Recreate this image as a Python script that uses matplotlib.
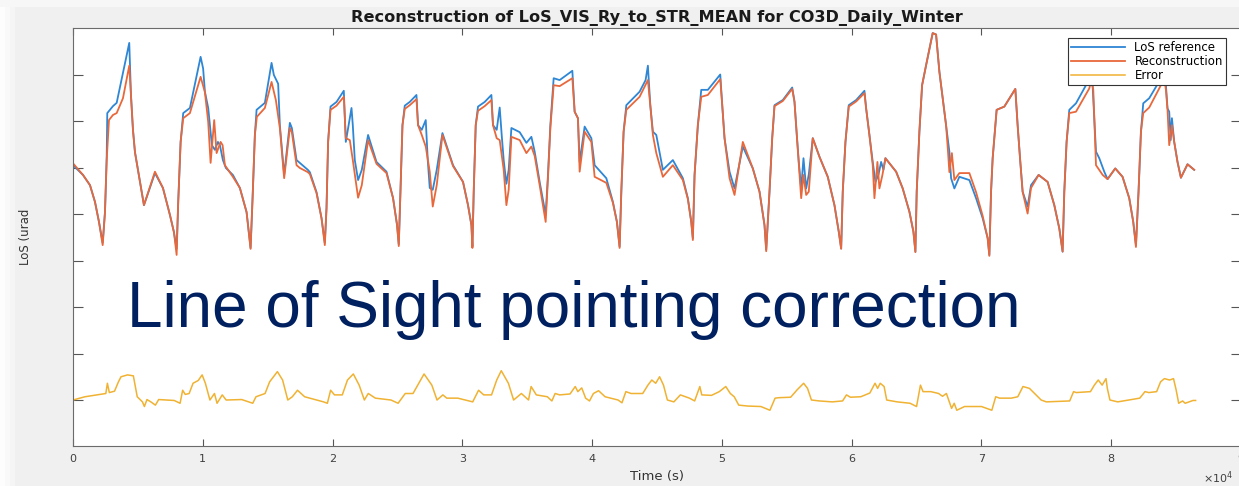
import matplotlib
matplotlib.use('Agg')
import matplotlib.pyplot as plt
from matplotlib.patches import Rectangle

# ---------------- data (time in s, LoS in urad) ----------------
ref_time = [0, 770, 1309, 1694, 2002, 2287, 2464, 2595, 2641, 3080, 3365, 4335, 4466, 4620, 4774, 5159, 5467, 6314, 6930, 7469, 7777, 7985,
            8108, 8293, 8493, 9009, 9833, 10026, 10164, 10418, 10549, 10703, 10934, 11165, 11319, 11550, 11781, 12320, 12859, 13375, 13683,
            13837, 14014, 14145, 14784, 15300, 15477, 15808, 15939, 16270, 16709, 16863, 17225, 18095, 18249, 18765, 19150, 19404,
            19535, 19658, 19843, 20305, 20867, 21021, 21460, 21560, 21714, 21968, 22253, 22738, 23385, 24155, 24663, 24971, 25102,
            25233, 25387, 25564, 25949, 26465, 26588, 26873, 27181, 27335, 27489, 27720, 28028, 28467, 29283, 30053, 30438, 30700, 30777,
            30877, 31031, 31208, 31724, 32240, 32363, 32648, 32879, 33033, 33187, 33395, 33572, 33780, 34419, 34935, 35320, 35574, 35959, 36421,
            36598, 36783, 37037, 37499, 38477, 38654, 38908, 39039, 39424, 39940, 40194, 41095, 41603, 41911, 42119,
            42250, 42427, 42635, 43659, 44121, 44298, 44483, 44683, 44945, 45453, 46223, 46993, 47378, 47640, 47763,
            47894, 48148, 48410, 48918, 49873, 50027, 50204, 50589, 50974, 51613, 52383, 52899, 53284, 53415,
            53669, 53877, 54054, 54693, 55417, 55594, 55771, 55925, 56110, 56287, 56495, 56695, 57003, 57519, 58158, 58674, 59005, 59190,
            59313, 59521, 59775, 60345, 60984, 61115, 61369, 61623, 61831, 62062, 62270, 62447, 62601, 63425, 63933, 64449, 64757, 64911,
            65011, 65219, 65427, 65735, 66243, 66505, 66759, 67013, 67275, 67529, 67660, 67914, 68299, 69069, 69585, 70093, 70478, 70609,
            70740, 70864, 70994, 71171, 71764, 72611, 72788, 72973, 73173, 73558, 73820, 74405, 75098, 75614, 75999, 76254,
            76384, 76561, 76769, 77285, 78055, 78386, 78564, 78826, 79079, 79464, 79718, 80311, 80873, 81389, 81697, 81905,
            82105, 82290, 82467, 82929, 83568, 84007, 84215, 84338, 84469, 84585, 84677, 84854, 85108, 85370, 85878, 86394]
ref_value = [50.5, 48.4, 46.2, 42.6, 38.3, 33.8, 40.4, 52.0, 61.7, 63.2, 63.9, 76.8, 65.6, 58.1, 53.3, 46.9, 41.9, 48.8, 45.6, 39.8, 36.1, 32.5,
             42.6, 55.5, 61.7, 62.8, 73.8, 71.3, 66.3, 62.8, 59.1, 54.8, 53.8, 55.5, 54.8, 51.6, 49.9, 48.4, 45.6, 40.4, 32.7,
             43.4, 57.0, 62.4, 63.9, 72.5, 69.9, 68.0, 59.1, 48.4, 59.6, 58.5, 51.6, 49.5, 49.0, 44.7, 39.1, 33.8,
             41.3, 55.5, 63.1, 64.1, 66.5, 55.5, 62.8, 59.1, 51.6, 47.3, 49.5, 57.0, 51.2, 49.1, 43.4, 37.6, 33.5,
             44.8, 59.1, 63.3, 64.1, 65.6, 59.1, 58.1, 60.2, 51.6, 45.6, 45.2, 49.5, 57.4, 50.5, 46.9, 41.9, 37.6, 33.0,
             44.8, 59.1, 63.1, 64.1, 65.6, 59.1, 58.1, 62.9, 57.0, 51.6, 46.5, 49.5, 58.5, 57.6, 55.3, 56.6, 53.4, 46.9, 39.8,
             48.4, 59.1, 69.2, 68.8, 70.8, 62.0, 60.6, 51.2, 58.8, 56.3, 50.5, 47.7, 42.6, 38.3, 33.0,
             44.8, 57.7, 63.4, 66.3, 68.8, 71.9, 63.4, 57.7, 57.0, 49.5, 51.6, 47.7, 43.4, 38.3, 34.8,
             48.4, 59.1, 66.7, 66.7, 70.0, 63.4, 56.3, 49.1, 45.5, 54.5, 49.8, 44.8, 37.6, 32.3,
             44.8, 56.3, 63.4, 64.5, 67.2, 64.2, 57.0, 51.2, 45.5, 52.0, 45.5, 48.5, 56.3, 52.3, 48.0, 41.9, 36.2, 32.6,
             44.8, 55.5, 63.4, 64.5, 66.5, 62.7, 57.0, 51.2, 46.9, 48.4, 51.2, 49.5, 52.0, 49.1, 45.5, 40.5, 36.2, 31.9,
             44.8, 57.7, 67.7, 72.0, 78.9, 78.6, 70.6, 64.9, 59.1, 53.4, 47.7, 45.5, 48.0, 47.3, 43.4, 39.1, 34.8, 31.2,
             44.8, 52.0, 56.3, 62.4, 63.1, 66.9, 59.1, 52.0, 44.8, 41.6, 46.2, 48.4, 46.9, 41.9, 36.9, 31.9,
             44.8, 55.5, 62.4, 63.8, 67.7, 70.5, 67.7, 53.4, 52.0, 49.1, 47.5, 49.8, 48.0, 43.4, 38.3, 33.3,
             44.8, 57.7, 63.8, 64.9, 67.9, 70.5, 67.7, 62.7, 62.0, 55.9, 60.6, 55.5, 51.2, 47.8, 50.7, 49.5]

rec_time = [0, 770, 1309, 1694, 2002, 2287, 2464, 2595, 2772, 3080, 3365, 3850, 4335, 4466, 4620, 4774, 5159, 5467, 6314, 6930, 7469, 7777, 7985,
            8108, 8293, 8493, 9009, 9833, 10164, 10418, 10603, 10880, 11065, 11373, 11527, 11704, 12320, 12859, 13375, 13683,
            13837, 14014, 14168, 14784, 15300, 15631, 15939, 16270, 16709, 16863, 17225, 17479, 18095, 18249, 18765, 19150, 19404,
            19535, 19658, 19843, 20305, 20867, 21021, 21329, 21560, 21968, 22253, 22738, 23385, 24155, 24663, 24971, 25102,
            25233, 25387, 25564, 25949, 26465, 26588, 26873, 27181, 27489, 27720, 28028, 28467, 29283, 30053, 30438, 30700, 30777,
            30877, 31031, 31208, 31724, 32240, 32363, 32648, 32879, 33187, 33395, 33572, 33780, 34419, 34935, 35320, 35574, 35959, 36421,
            36598, 36783, 37037, 37499, 38477, 38654, 38908, 39039, 39424, 39940, 40194, 41095, 41603, 41911, 42119,
            42250, 42427, 42635, 43659, 44298, 44483, 44683, 44945, 45453, 46223, 46993, 47378, 47640, 47763,
            47894, 48148, 48410, 48918, 49873, 50027, 50204, 50589, 50974, 51613, 52383, 52899, 53284, 53415,
            53669, 53877, 54054, 54693, 55417, 55594, 55771, 55925, 56110, 56287, 56495, 56695, 57003, 57519, 58158, 58674, 59005, 59190,
            59313, 59521, 59775, 60345, 60984, 61115, 61369, 61623, 61754, 61985, 62139, 62370, 62601, 63425, 63933, 64449, 64757, 64911,
            65011, 65219, 65427, 65735, 66243, 66505, 66759, 67013, 67275, 67414, 67529, 67722, 67914, 68299, 69069, 69585, 70093, 70478, 70609,
            70740, 70864, 70994, 71171, 71764, 72611, 72788, 72973, 73173, 73558, 73820, 74405, 75098, 75614, 75999, 76254,
            76384, 76561, 76769, 77285, 78309, 78463, 78617, 78826, 79341, 79718, 80311, 80873, 81389, 81697, 81905,
            82105, 82290, 82467, 82929, 83699, 84084, 84215, 84338, 84469, 84677, 84854, 85108, 85370, 85878, 86394]
rec_value = [50.9, 48.4, 46.2, 42.6, 38.3, 33.3, 40.4, 51.6, 60.2, 61.3, 61.7, 64.9, 71.9, 65.6, 58.1, 53.3, 46.9, 41.9, 49.1, 45.6, 39.8, 36.1, 31.2,
             42.6, 55.5, 60.6, 61.7, 69.5, 66.2, 59.8, 51.0, 60.2, 53.1, 55.5, 54.8, 50.5, 48.0, 45.6, 40.4, 32.5,
             43.4, 57.0, 60.9, 62.8, 68.4, 64.5, 58.5, 47.7, 58.5, 57.6, 50.5, 49.9, 49.0, 48.6, 44.5, 39.1, 33.3,
             41.3, 55.5, 62.4, 63.3, 65.2, 56.3, 55.9, 51.6, 43.5, 46.2, 55.9, 50.8, 48.8, 43.4, 37.6, 33.1,
             44.8, 59.1, 62.6, 63.4, 64.7, 59.1, 57.0, 54.5, 49.1, 41.6, 46.2, 57.0, 50.3, 46.9, 41.9, 37.6, 32.7,
             44.8, 59.1, 62.2, 63.2, 64.5, 59.1, 56.3, 55.9, 49.5, 41.9, 45.2, 56.6, 55.9, 53.1, 54.5, 52.5, 46.2, 38.3,
             47.7, 58.5, 67.7, 67.5, 69.2, 62.0, 60.6, 49.1, 57.7, 55.5, 48.0, 46.7, 42.4, 38.3, 32.7,
             44.8, 57.7, 62.4, 65.2, 68.8, 63.4, 57.0, 53.1, 48.0, 50.5, 47.3, 43.2, 38.3, 34.4,
             48.4, 59.1, 65.2, 65.6, 69.0, 63.4, 56.3, 47.7, 44.1, 55.5, 49.8, 44.8, 37.6, 32.0,
             44.8, 56.3, 63.2, 64.3, 66.9, 64.1, 57.0, 50.5, 43.4, 48.4, 44.1, 44.8, 56.3, 52.3, 48.0, 41.9, 36.2, 32.5,
             44.8, 55.5, 63.1, 64.2, 66.0, 62.7, 57.0, 50.5, 43.4, 51.2, 45.5, 48.4, 52.0, 49.1, 45.5, 40.5, 36.2, 31.8,
             44.8, 57.7, 67.7, 72.0, 78.9, 78.6, 70.6, 64.9, 59.1, 53.8, 49.0, 53.1, 47.3, 48.8, 48.8, 44.7, 39.6, 34.8, 31.0,
             44.8, 52.0, 56.3, 62.4, 63.1, 66.9, 59.1, 52.0, 44.8, 40.1, 45.6, 48.4, 46.9, 41.9, 36.9, 31.9,
             44.8, 55.5, 61.7, 62.0, 67.0, 68.8, 66.7, 50.5, 48.4, 47.5, 49.8, 48.0, 43.4, 38.3, 32.9,
             44.8, 57.7, 61.7, 62.9, 67.0, 69.2, 66.7, 62.4, 54.8, 59.1, 55.5, 51.2, 47.8, 50.7, 49.5]

err_time = [0, 920, 2070, 2530, 2650, 2800, 3200, 3500, 3700, 4200, 4650, 4950, 5350, 5500, 5700, 6000, 6350, 6600, 7800, 8250,
            8450, 8650, 8950, 9250, 9650, 9950, 10200, 10550, 10900, 11100, 11500, 11800, 13000, 13850,
            14100, 14800, 15150, 15750, 16150, 16550, 16900, 17300, 17850, 19300, 19600,
            19850, 20150, 20750, 21150, 21600, 22050, 22450, 22750, 23300, 24500, 25050,
            25600, 26200, 26650, 27050, 27650, 28050, 28500, 28800, 29650, 30800,
            31250, 31650, 32250, 32650, 33000, 33550, 33950, 34550, 35100, 35300, 35700, 36550,
            36900, 37150, 37500, 38300, 38700, 38900, 39200, 39500, 39800, 40100, 40500, 41000, 42000, 42300,
            42600, 43000, 43900, 44300, 44600, 44900, 45200, 45500, 45800, 46300, 46800, 47500, 47900,
            48300, 48450, 49200, 49800, 50300, 50650, 50950, 51300, 52000, 53000, 53700,
            54100, 54400, 55300, 55800, 56300, 56600, 56900, 57500, 58500, 59300,
            59600, 59900, 60700, 61400, 61800, 62000, 62200, 62500, 62700, 63500, 64500, 65000,
            65300, 65500, 66100, 66700, 67000, 67300, 67700, 67900, 68100, 68700, 70000, 70800,
            71100, 71400, 72300, 72800, 73200, 73700, 74600, 75000, 76800,
            77100, 77300, 78400, 78700, 79000, 79300, 79600, 79700, 79900, 80500, 82200,
            82600, 82900, 83500, 83800, 84100, 84500, 84800, 85000, 85200, 85500, 85700, 86300, 86500]
err_value = [0.0, 0.7, 1.2, 1.4, 3.6, 1.6, 1.9, 3.9, 5.0, 5.4, 5.2, 0.7, -0.4, -1.4, 0.1, -0.4, -1.1, 0.1, -0.1, -0.7,
             2.1, 1.2, 1.4, 3.6, 4.2, 5.4, 3.6, 0.0, 1.4, -0.7, 1.1, 0.0, 0.1, -0.7,
             0.7, 1.4, 3.9, 6.1, 4.3, 0.0, 0.7, 2.1, 0.7, -0.4, -0.7,
             2.1, 1.1, 1.1, 4.3, 5.6, 3.2, 0.0, 1.4, 0.4, 0.0, -0.7,
             1.4, 1.4, 3.6, 5.6, 3.2, 0.0, 1.1, 0.4, 0.4, -0.4,
             2.1, 1.1, 1.1, 4.3, 6.3, 3.6, 0.0, 1.4, 0.0, 2.9, 1.1, 0.7,
             -0.2, 1.4, 1.1, 1.3, 2.9, 1.8, 2.6, 0.4, -0.2, 1.4, 2.0, 0.7, 0.0, -0.6,
             1.8, 1.4, 1.4, 3.2, 4.3, 3.6, 5.0, 3.2, 0.0, -0.4, 1.1, 0.4, -0.2,
             2.9, 1.1, 1.0, 1.8, 2.9, 1.4, 0.7, -1.1, -1.3, -1.4, -2.2,
             0.4, 0.5, 0.6, 2.2, 3.6, 2.5, 0.0, -0.2, -0.4, -0.2,
             1.1, 0.6, 0.7, 1.5, 3.6, 2.5, 3.6, 2.9, 0.0, -0.4, -0.7, -1.4,
             3.2, 1.8, 1.8, 1.4, 0.8, 1.4, -1.8, -0.7, -2.2, -1.4, -1.4, -2.2,
             0.7, 0.4, 0.4, 0.7, 2.9, 2.5, 0.0, -0.4, -0.2,
             1.8, 1.6, 1.8, 3.2, 4.3, 3.2, 4.6, 2.5, 0.0, -0.4, 0.4,
             1.8, 1.6, 1.8, 3.9, 4.6, 4.3, 4.6, 2.2, -0.7, -0.2, -0.7, -0.1, -0.1]

series_labels = ['LoS reference', 'Reconstruction', 'Error']
x_tick_values = [0, 10000, 20000, 30000, 40000, 50000, 60000, 70000, 80000, 90000]
x_tick_labels = ['0', '1', '2', '3', '4', '5', '6', '7', '8', '9']
y_tick_values = [0, 10, 20, 30, 40, 50, 60, 70]

# ---------------- figure ----------------
W, H = 1239, 486
fig = plt.figure(figsize=(W / 100, H / 100), dpi=100, facecolor='#f0f0f0')

# lighter slide margin on the left and top
for x0, x1, c in [(0, 5, '#fdfdfd'), (5, 10, '#f9f9f9'), (10, 15, '#f5f5f5')]:
    fig.add_artist(Rectangle((x0 / W, 0), (x1 - x0) / W, 1, transform=fig.transFigure,
                             color=c, zorder=0, lw=0))
fig.add_artist(Rectangle((0, (H - 7) / H), 1, 7 / H, transform=fig.transFigure,
                         color='#f7f7f7', zorder=0, lw=0))

ax = fig.add_axes([73 / W, 40 / H, 1168 / W, 418 / H])
ax.set_facecolor('white')

ax.plot(ref_time, ref_value, color='#2e86d4', lw=1.3, label=series_labels[0])
ax.plot(rec_time, rec_value, color='#e8683c', lw=1.3, label=series_labels[1])
ax.plot(err_time, err_value, color='#f0b232', lw=1.1, label=series_labels[2])

ax.set_xlim(0, 90000)
ax.set_ylim(-9.89, 80.0)
ax.set_xticks(x_tick_values)
ax.set_xticklabels(x_tick_labels)
ax.set_yticks(y_tick_values)
ax.set_yticklabels([])
ax.tick_params(direction='in', top=True, right=True, labelsize=8,
               labelcolor='#404040', color='#555555', width=0.8)
ax.tick_params(axis='x', length=5, pad=6)
ax.tick_params(axis='y', length=7.2)
for s in ax.spines.values():
    s.set_color('#6b6b6b')
    s.set_linewidth(0.8)

ax.set_title('Reconstruction of LoS_VIS_Ry_to_STR_MEAN for CO3D_Daily_Winter',
             fontsize=11.6, fontweight='bold', pad=4, color='#1a1a1a')
ax.set_xlabel('Time (s)', fontsize=9.5, color='#333333')
ax.xaxis.set_label_coords(0.5, -0.058)
ax.set_ylabel('LoS (urad', fontsize=8.5, color='#333333')
ax.yaxis.set_label_coords(-0.035, 0.5)

leg = ax.legend(loc='upper right', bbox_to_anchor=(0.987, 0.976), fontsize=8.5,
                frameon=True, fancybox=False, edgecolor='#333333', framealpha=1,
                borderpad=0.25, labelspacing=0.1, handlelength=4.6,
                handletextpad=0.8, borderaxespad=0)
leg.get_frame().set_linewidth(0.8)

fig.text(1203 / W, (H - 478) / H, r'$\times 10^{4}$', fontsize=8, color='#404040', va='center')

fig.text(127 / W, (H - 327) / H, 'Line of Sight pointing correction', fontsize=46,
         color='#002060', family='Liberation Sans', va='baseline', ha='left')

fig.savefig('out.png', dpi=100, facecolor=fig.get_facecolor())
